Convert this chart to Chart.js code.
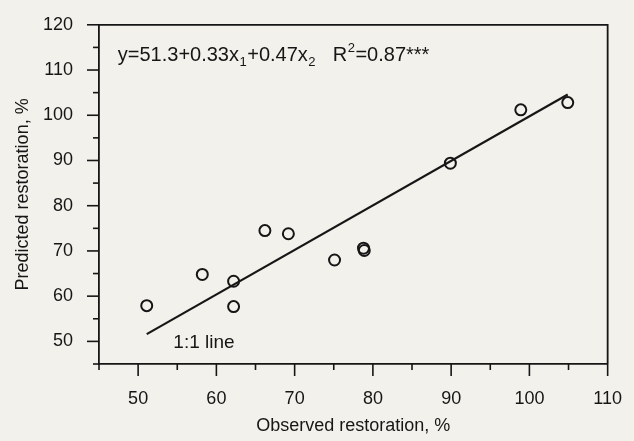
<!DOCTYPE html>
<html>
<head>
<meta charset="utf-8">
<script src="https://cdn.jsdelivr.net/npm/chart.js@4.4.0/dist/chart.umd.min.js"></script>
<style>
html,body{margin:0;padding:0;background:#f3f1eb;}
#wrap{width:634px;height:441px;}
</style>
</head>
<body>
<div id="wrap"><canvas id="c" width="634" height="441"></canvas></div>
<script>
// ---- data ----
const observed  = [51.1, 58.2, 62.2, 62.2, 66.2, 69.2, 75.1, 78.8, 78.9, 89.9, 98.9, 104.9];
const predicted = [57.9, 64.8, 63.3, 57.7, 74.5, 73.8, 68.0, 70.6, 70.1, 89.4, 101.2, 102.8];
const fitLineX  = [51.1, 104.9];
const fitLineY  = [51.6, 104.6];
const xTickValues = [45, 50, 55, 60, 65, 70, 75, 80, 85, 90, 95, 100, 105, 110];
const yTickValues = [45, 50, 55, 60, 65, 70, 75, 80, 85, 90, 95, 100, 105, 110, 115, 120];
const xTitle = 'Observed restoration, %';
const yTitle = 'Predicted restoration, %';
const lineLabel = '1:1 line';
const equationParts = [
  {t: 'y=51.3+0.33x', k: 'n'}, {t: '1', k: 'sub'},
  {t: '+0.47x', k: 'n'}, {t: '2', k: 'sub'},
  {t: '   R', k: 'n'}, {t: '2', k: 'sup'},
  {t: '=0.87***', k: 'n'}
];

const INK = '#161616';
const FONT = '"Liberation Sans", Arial, sans-serif';

const pts = observed.map((x, i) => ({x: x, y: predicted[i]}));
const fit = fitLineX.map((x, i) => ({x: x, y: fitLineY[i]}));

const paperPlugin = {
  id: 'paper',
  beforeDraw(chart) {
    const c = chart.ctx;
    c.save();
    c.fillStyle = '#f3f1eb';
    c.fillRect(0, 0, chart.width, chart.height);
    c.restore();
  }
};

const framePlugin = {
  id: 'frame',
  afterDraw(chart) {
    const c = chart.ctx;
    const a = chart.chartArea;
    const xs = chart.scales.x, ys = chart.scales.y;
    c.save();
    c.strokeStyle = INK;
    c.lineWidth = 1.8;
    c.beginPath();
    c.moveTo(a.left, a.top);
    c.lineTo(a.right, a.top);
    c.lineTo(a.right, a.bottom);
    c.stroke();
    c.lineWidth = 1.6;
    xTickValues.forEach(v => {
      const px = xs.getPixelForValue(v);
      const len = v % 10 === 0 ? 12 : 6;
      c.beginPath(); c.moveTo(px, a.bottom); c.lineTo(px, a.bottom + len); c.stroke();
    });
    yTickValues.forEach(v => {
      const py = ys.getPixelForValue(v);
      const len = v % 10 === 0 ? 12 : 6;
      c.beginPath(); c.moveTo(a.left, py); c.lineTo(a.left - len, py); c.stroke();
    });
    c.fillStyle = INK;
    c.textBaseline = 'middle';
    c.textAlign = 'left';
    let x = xs.getPixelForValue(47.4);
    const y = ys.getPixelForValue(113.2);
    equationParts.forEach(p => {
      if (p.k === 'n') {
        c.font = '20px ' + FONT;
        c.fillText(p.t, x, y);
      } else {
        c.font = '13px ' + FONT;
        c.fillText(p.t, x + 0.5, p.k === 'sub' ? y + 7 : y - 7);
      }
      x += c.measureText(p.t).width + (p.k === 'n' ? 0 : 1);
    });
    c.font = '19px ' + FONT;
    c.fillText(lineLabel, xs.getPixelForValue(54.5), ys.getPixelForValue(49.7));
    c.restore();
  }
};

new Chart(document.getElementById('c'), {
  type: 'scatter',
  data: {
    datasets: [
      {
        label: 'points',
        data: pts,
        pointStyle: 'circle',
        pointRadius: 5.5,
        pointBorderWidth: 2,
        pointBackgroundColor: 'rgba(0,0,0,0)',
        pointBorderColor: INK,
        showLine: false
      },
      {
        label: 'fit',
        data: fit,
        showLine: true,
        borderColor: INK,
        borderWidth: 2.2,
        pointRadius: 0,
        fill: false
      }
    ]
  },
  options: {
    responsive: false,
    animation: false,
    devicePixelRatio: 1,
    layout: {padding: {top: 18, right: 20, left: 0, bottom: 0}},
    plugins: {legend: {display: false}, tooltip: {enabled: false}},
    scales: {
      x: {
        type: 'linear', min: 45, max: 110,
        afterBuildTicks: s => { s.ticks = xTickValues.map(v => ({value: v})); },
        afterFit: s => { s.height = 77; },
        ticks: {
          color: INK, font: {family: FONT, size: 18}, padding: 12,
          autoSkip: false, maxRotation: 0,
          callback: v => (v % 10 === 0 ? String(v) : '')
        },
        grid: {drawOnChartArea: false, drawTicks: true, tickLength: 12, tickColor: 'rgba(0,0,0,0)'},
        border: {display: true, color: INK, width: 1.8},
        title: {display: true, text: xTitle, color: INK, font: {family: FONT, size: 18}, padding: {top: 0, bottom: 4}}
      },
      y: {
        type: 'linear', min: 45, max: 120,
        afterBuildTicks: s => { s.ticks = yTickValues.map(v => ({value: v})); },
        afterFit: s => { s.width = 99; },
        ticks: {
          color: INK, font: {family: FONT, size: 18}, padding: 14,
          autoSkip: false,
          callback: v => (v % 10 === 0 ? String(v) : '')
        },
        grid: {drawOnChartArea: false, drawTicks: true, tickLength: 12, tickColor: 'rgba(0,0,0,0)'},
        border: {display: true, color: INK, width: 1.8},
        title: {display: true, text: yTitle, color: INK, font: {family: FONT, size: 18}, padding: {top: 12, bottom: 0}}
      }
    }
  },
  plugins: [paperPlugin, framePlugin]
});
</script>
</body>
</html>
